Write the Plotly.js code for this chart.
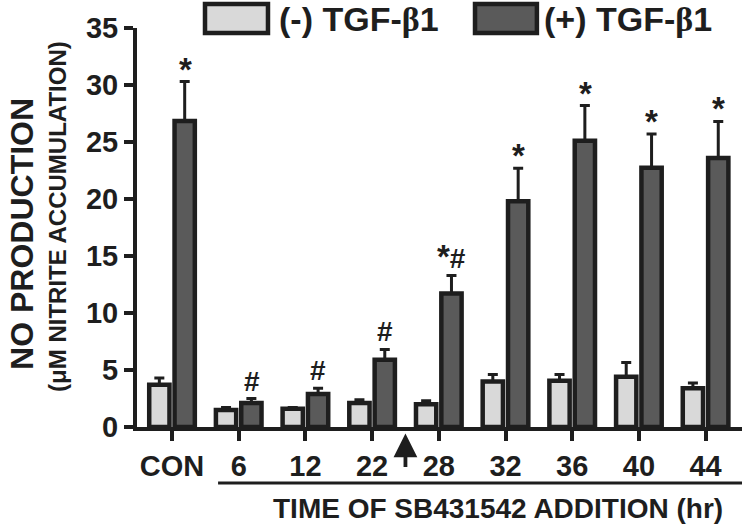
<!DOCTYPE html>
<html>
<head>
<meta charset="utf-8">
<script src="https://cdn.plot.ly/plotly-3.0.1.min.js"></script>
<style>html,body{margin:0;padding:0;background:#fff;}#chart{width:750px;height:525px;}</style>
</head>
<body>
<div id="chart"></div>
<script>
// ---- data ----
const categories = ['CON', '6', '12', '22', '28', '32', '36', '40', '44'];
const seriesNames = ['(-) TGF-\u03b21', '(+) TGF-\u03b21'];
const withoutTGF = [3.7, 1.5, 1.6, 2.1, 2.0, 4.0, 4.05, 4.4, 3.4];
const withoutTGFErrTop = [4.3, 1.7, 1.7, 2.4, 2.3, 4.6, 4.6, 5.65, 3.85];
const withTGF = [26.85, 2.1, 2.9, 5.9, 11.7, 19.8, 25.1, 22.75, 23.6];
const withTGFErrTop = [30.3, 2.5, 3.4, 6.8, 13.3, 22.7, 28.2, 25.7, 26.8];
const withTGFMarks = ['*', '#', '#', '#', '*#', '*', '*', '*', '*'];
const yTicks = [0, 5, 10, 15, 20, 25, 30, 35];
const yTitle = 'NO PRODUCTION';
const ySubTitle = '(\u03bcM NITRITE ACCUMULATION)';
const xTitle = 'TIME OF SB431542 ADDITION (hr)';

const ink = '#1e1e1e';
const lightFill = '#d9d9d9';
const darkFill = '#5a5a5a';
const fontFamily = 'Arial, "Liberation Sans", Helvetica, sans-serif';

function upErr(tops, vals) { return tops.map((t, i) => Math.max(0, t - vals[i])); }
function serifBeta(s) { return s.replace('\u03b2', '<span style="font-family:\'Liberation Serif\',\'DejaVu Serif\',serif">\u03b2</span>'); }

const traces = [
  {
    type: 'bar', name: seriesNames[0], x: categories, y: withoutTGF,
    marker: { color: lightFill, line: { color: ink, width: 4.5 } },
    error_y: { type: 'data', symmetric: false, array: upErr(withoutTGFErrTop, withoutTGF),
      arrayminus: withoutTGF.map(() => 0), color: ink, thickness: 3, width: 5 }
  },
  {
    type: 'bar', name: seriesNames[1], x: categories, y: withTGF,
    marker: { color: darkFill, line: { color: ink, width: 4.5 } },
    error_y: { type: 'data', symmetric: false, array: upErr(withTGFErrTop, withTGF),
      arrayminus: withTGF.map(() => 0), color: ink, thickness: 3, width: 5 }
  }
];

const annotations = [];
withTGFMarks.forEach((m, i) => {
  if (!m) return;
  const txt = m.replace('*', '<span style="font-size:33px">*</span>');
  annotations.push({
    x: i, y: withTGFErrTop[i], xref: 'x', yref: 'y',
    text: txt, showarrow: false, xshift: 13, yanchor: 'bottom', yshift: m === '*' ? -8 : (m === '*#' ? -2 : 0),
    font: { family: fontFamily, size: 28, color: ink, weight: 'bold' }
  });
});
// y titles
annotations.push({ x: -0.19, y: 0.484, xref: 'paper', yref: 'paper', text: yTitle, textangle: -90,
  showarrow: false, xanchor: 'center', yanchor: 'middle',
  font: { family: fontFamily, size: 32, color: ink, weight: 'bold' } });
annotations.push({ x: -0.1306, y: 0.529, xref: 'paper', yref: 'paper', text: ySubTitle, textangle: -90,
  showarrow: false, xanchor: 'center', yanchor: 'middle',
  font: { family: fontFamily, size: 24, color: ink, weight: 'bold' } });
// x title
annotations.push({ x: 0.596, y: -0.2055, xref: 'paper', yref: 'paper', text: xTitle,
  showarrow: false, xanchor: 'center', yanchor: 'middle',
  font: { family: fontFamily, size: 28, color: ink, weight: 'bold' } });
// arrow between 22 and 28
annotations.push({ x: 3.5, y: -0.016, xref: 'x', yref: 'paper', text: '', showarrow: true,
  ax: 0, ay: 35, arrowhead: 2, arrowsize: 1.25, arrowwidth: 3.8, arrowcolor: ink });
// legend text
annotations.push({ x: 0.232, y: 1.0226, xref: 'paper', yref: 'paper', text: serifBeta(seriesNames[0]),
  showarrow: false, xanchor: 'left', yanchor: 'middle',
  font: { family: fontFamily, size: 34, color: ink, weight: 'bold' } });
annotations.push({ x: 0.670, y: 1.0226, xref: 'paper', yref: 'paper', text: serifBeta(seriesNames[1]),
  showarrow: false, xanchor: 'left', yanchor: 'middle',
  font: { family: fontFamily, size: 34, color: ink, weight: 'bold' } });

const shapes = [
  { type: 'rect', xref: 'paper', yref: 'paper', x0: 0.1124, x1: 0.2165, y0: 0.9875, y1: 1.060,
    fillcolor: lightFill, line: { color: ink, width: 4.5 } },
  { type: 'rect', xref: 'paper', yref: 'paper', x0: 0.5587, x1: 0.661, y0: 0.9875, y1: 1.060,
    fillcolor: darkFill, line: { color: ink, width: 4.5 } },
  { type: 'line', xref: 'paper', yref: 'paper', x0: 0.134, x1: 1.0, y0: -0.1404, y1: -0.1404,
    line: { color: ink, width: 3 } }
];

const layout = {
  width: 750, height: 525,
  margin: { l: 137, r: 8, t: 28, b: 98 },
  paper_bgcolor: '#ffffff', plot_bgcolor: '#ffffff',
  barmode: 'group', bargap: 0.24, bargroupgap: 0.2,
  showlegend: false,
  xaxis: {
    type: 'category', range: [-0.525, 8.546], showgrid: false, zeroline: false,
    showline: true, linecolor: ink, linewidth: 4,
    ticks: 'outside', ticklen: 10, tickwidth: 4, tickcolor: ink,
    tickfont: { family: fontFamily, size: 29, color: ink, weight: 'bold' },
    fixedrange: true
  },
  yaxis: {
    range: [0, 35], tickvals: yTicks, ticktext: yTicks.map(String),
    showgrid: false, zeroline: false,
    showline: true, linecolor: ink, linewidth: 4,
    ticks: 'outside', ticklen: 9, tickwidth: 4, tickcolor: ink,
    tickfont: { family: fontFamily, size: 29, color: ink, weight: 'bold' },
    fixedrange: true
  },
  annotations: annotations,
  shapes: shapes
};

Plotly.newPlot('chart', traces, layout, { displayModeBar: false, staticPlot: true });
</script>
</body>
</html>
